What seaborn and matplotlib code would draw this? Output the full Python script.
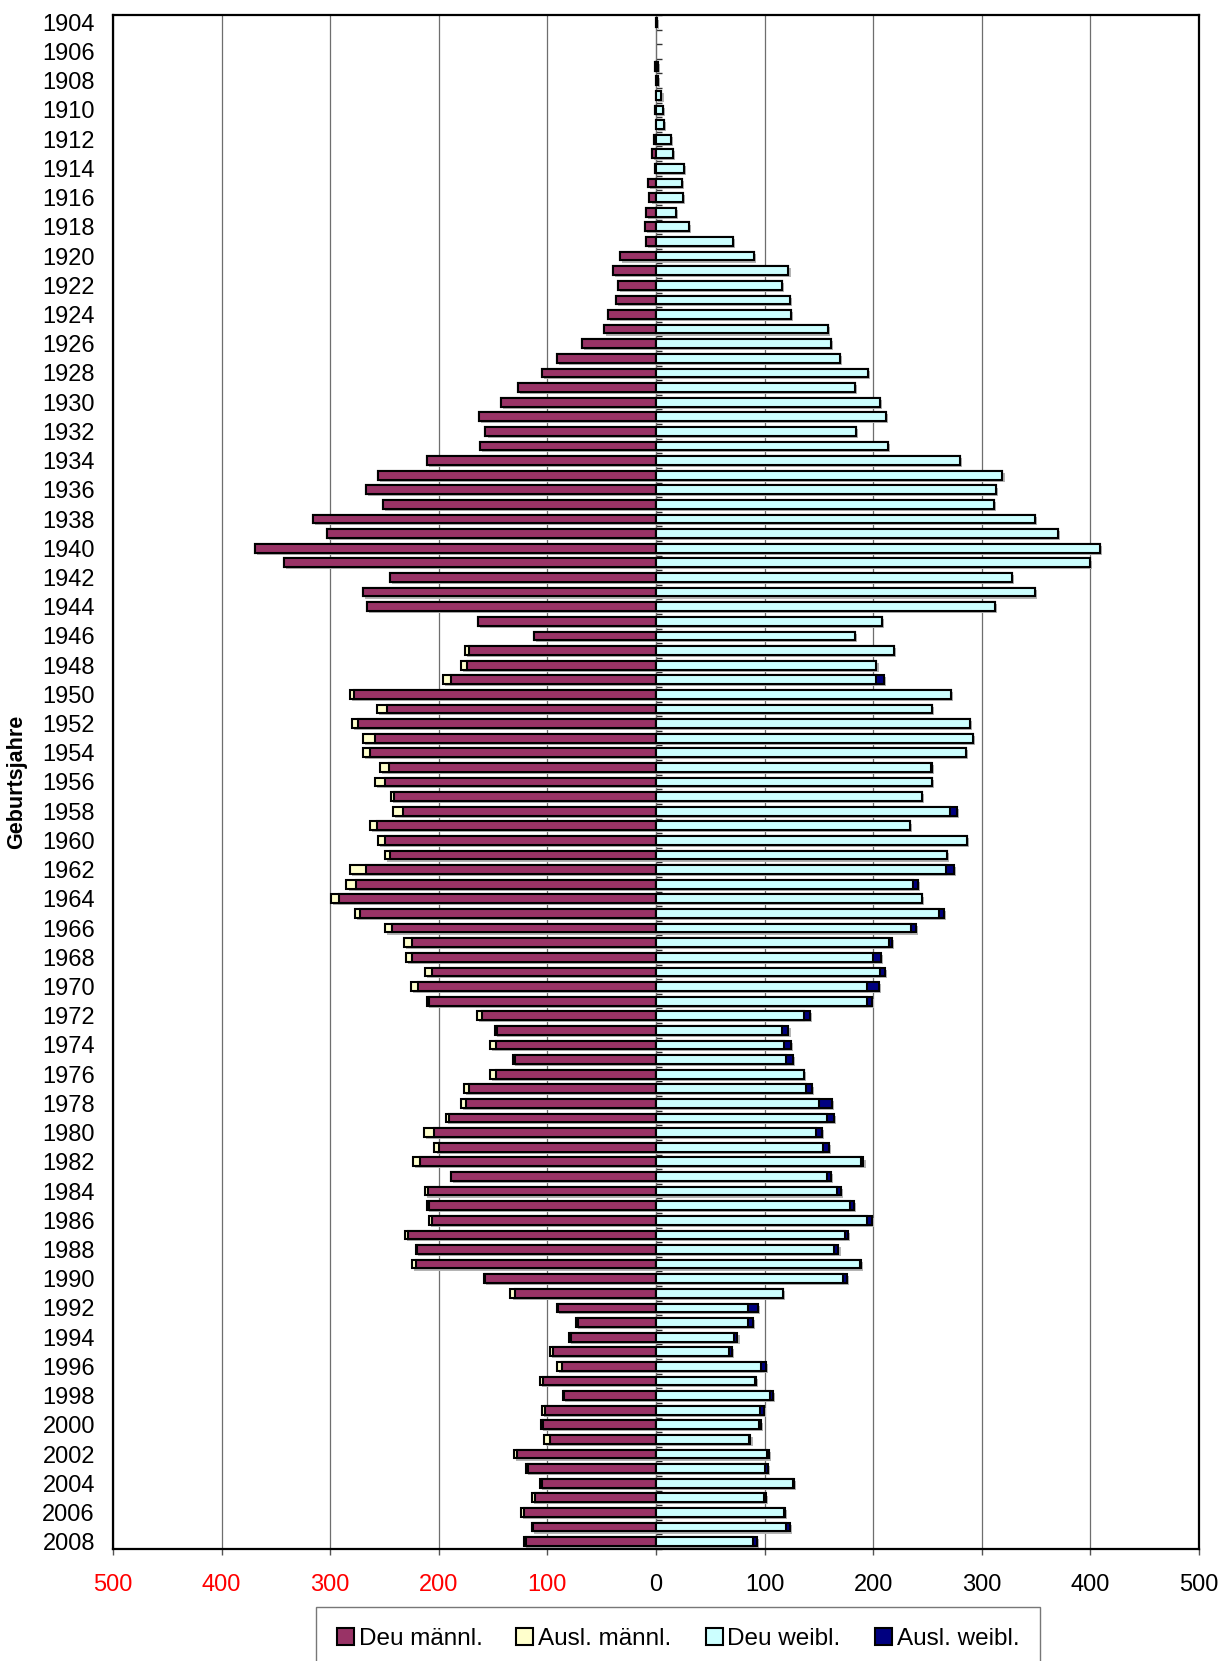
import numpy as np
import pandas as pd
import matplotlib
matplotlib.use('Agg')
import matplotlib.pyplot as plt
import matplotlib.patheffects as pe
from matplotlib.patches import Patch
import seaborn as sns

# Geburtsjahre 1904 - 2008
jahre = list(range(1904, 2009))

deu_m = [0, 0, 0, 1, 0, 0, 1, 0, 2, 4,
         1, 7, 6, 9, 10, 9, 33, 40, 35, 37,
         44, 48, 68, 91, 105, 127, 143, 163, 157, 162,
         211, 256, 267, 251, 316, 303, 369, 343, 245, 270,
         266, 164, 112, 172, 174, 189, 278, 248, 274, 259,
         263, 246, 250, 241, 233, 257, 250, 245, 267, 276,
         292, 273, 243, 225, 225, 206, 219, 209, 160, 146,
         147, 130, 147, 172, 175, 191, 204, 200, 217, 189,
         210, 209, 206, 228, 220, 221, 157, 130, 90, 72,
         78, 95, 87, 104, 85, 102, 104, 98, 128, 118,
         105, 111, 122, 113, 120]
ausl_m = [0, 0, 0, 0, 0, 0, 0, 0, 0, 0,
          0, 0, 0, 0, 0, 0, 0, 0, 0, 0,
          0, 0, 0, 0, 0, 0, 0, 0, 0, 0,
          0, 0, 0, 0, 0, 0, 0, 0, 0, 0,
          0, 0, 0, 4, 6, 7, 4, 9, 6, 11,
          7, 8, 9, 3, 9, 6, 6, 5, 15, 9,
          7, 4, 7, 7, 5, 7, 7, 2, 5, 2,
          6, 2, 6, 5, 5, 2, 10, 4, 7, 0,
          3, 2, 3, 3, 1, 4, 1, 4, 1, 2,
          2, 3, 4, 3, 1, 3, 2, 5, 3, 2,
          2, 3, 2, 1, 2]
deu_w = [1, 0, 0, 2, 2, 5, 6, 7, 14, 16,
         26, 24, 25, 18, 30, 71, 90, 122, 116, 123,
         124, 158, 161, 169, 195, 183, 206, 212, 184, 214,
         280, 319, 313, 311, 349, 370, 409, 400, 328, 349,
         312, 208, 183, 219, 203, 203, 272, 254, 289, 292,
         285, 253, 254, 245, 271, 234, 286, 268, 267, 237,
         245, 261, 235, 215, 200, 206, 194, 194, 136, 116,
         118, 120, 136, 138, 150, 157, 147, 154, 189, 157,
         167, 179, 194, 174, 164, 188, 172, 117, 85, 85,
         72, 67, 97, 91, 105, 96, 95, 86, 102, 100,
         126, 99, 118, 120, 89]
ausl_w = [0, 0, 0, 0, 0, 0, 0, 0, 0, 0,
          0, 0, 0, 0, 0, 0, 0, 0, 0, 0,
          0, 0, 0, 0, 0, 0, 0, 0, 0, 0,
          0, 0, 0, 0, 0, 0, 0, 0, 0, 0,
          0, 0, 0, 0, 0, 7, 0, 0, 0, 0,
          0, 1, 0, 0, 6, 0, 0, 0, 7, 4,
          0, 4, 4, 2, 7, 5, 11, 5, 6, 6,
          6, 6, 0, 6, 12, 7, 6, 5, 2, 4,
          3, 3, 5, 3, 4, 1, 4, 0, 9, 4,
          3, 3, 4, 1, 3, 3, 2, 1, 2, 3,
          1, 2, 1, 3, 4]

serien = ['Deu männl.', 'Ausl. männl.', 'Deu weibl.', 'Ausl. weibl.']
farben = ['#993366', '#FFFFCC', '#CCFFFF', '#000080']

df = pd.DataFrame({'jahr': [str(j) for j in jahre],
                   'deu_m': deu_m, 'ausl_m': ausl_m,
                   'deu_w': deu_w, 'ausl_w': ausl_w})
df['ges_m'] = -(df.deu_m + df.ausl_m)
df['deu_m_neg'] = -df.deu_m
df['ges_w'] = df.deu_w + df.ausl_w

plt.rcParams['font.family'] = ['Liberation Sans', 'DejaVu Sans']

fig = plt.figure(figsize=(12.27, 16.61), dpi=100)
ax = fig.add_axes([113/1227, 1 - 1549/1661, 1086/1227, 1534/1661])
ax.set_axisbelow(True)

schatten = [pe.SimplePatchShadow(offset=(1.5, -1.5), shadow_rgbFace='#b4b4b4', alpha=1),
            pe.Normal()]

# aussen die Summen (Ausl.-Farbe), innen die Deutschen drueber
lagen = [('ges_m', farben[1], True), ('deu_m_neg', farben[0], False),
         ('ges_w', farben[3], True), ('deu_w', farben[2], False)]
for spalte, farbe, mit_schatten in lagen:
    n0 = len(ax.patches)
    sns.barplot(data=df, x=spalte, y='jahr', order=df.jahr, orient='h',
                color=farbe, saturation=1, edgecolor='black', linewidth=1.5,
                width=0.6, errorbar=None, ax=ax)
    for p in ax.patches[n0:]:
        if p.get_width() == 0:
            p.set_visible(False)
        elif mit_schatten:
            p.set_path_effects(schatten)

ax.set_xlim(-500, 500)
ax.set_ylim(len(jahre) - 0.5, -0.5)
ax.set_xticks(range(-500, 501, 100))
ax.set_xticklabels([str(abs(v)) for v in range(-500, 501, 100)])
for lab, v in zip(ax.get_xticklabels(), range(-500, 501, 100)):
    lab.set_color('red' if v < 0 else 'black')
ax.set_yticks(range(0, len(jahre), 2))
ax.set_yticklabels([str(j) for j in jahre[::2]])
ax.tick_params(axis='x', labelsize=17, length=4, width=1, pad=14, color='#555555')
ax.tick_params(axis='y', labelsize=17, length=0, pad=13)
ax.grid(axis='x', color='#6e6e6e', linewidth=0.9)
ax.grid(axis='y', visible=False)
for s in ax.spines.values():
    s.set_linewidth(1.6)
    s.set_color('black')
ax.set_xlabel('')
ax.set_ylabel('Geburtsjahre', fontsize=15.5, fontweight='bold')
ax.yaxis.set_label_coords(-0.079, 0.5)

# Kategorienachse bei 0 mit kleinen Teilstrichen
mitte = ax.secondary_yaxis(0.5)
mitte.set_yticks(np.arange(-0.5, len(jahre), 1.0))
mitte.set_yticklabels([])
mitte.tick_params(axis='y', direction='out', length=4, width=1, color='#333333')
mitte.spines['left'].set_color('#777777')
mitte.spines['left'].set_linewidth(0.8)

handles = [Patch(facecolor=c, edgecolor='black', linewidth=1.5, label=l)
           for c, l in zip(farben, serien)]
leg = fig.legend(handles=handles, ncol=4, loc='upper left',
                 bbox_to_anchor=(316/1227, 1 - 1607/1661), fontsize=17.5,
                 frameon=True, fancybox=False, edgecolor='#555555',
                 handlelength=0.7, handleheight=0.7, handletextpad=0.2,
                 columnspacing=1.4, borderpad=0.85, borderaxespad=0)
leg.get_frame().set_linewidth(1.0)

fig.savefig('out.png', dpi=100)
